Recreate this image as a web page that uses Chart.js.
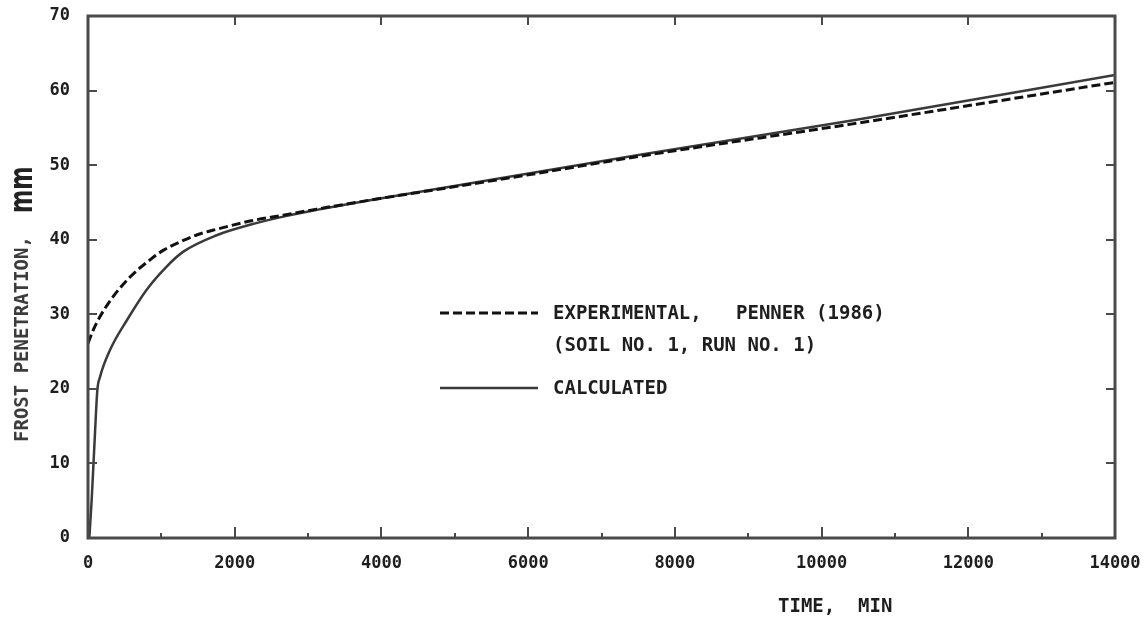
<!DOCTYPE html>
<html>
<head>
<meta charset="utf-8">
<script src="https://cdn.jsdelivr.net/npm/chart.js@4.4.0/dist/chart.umd.min.js"></script>
<style>
  html, body { margin: 0; padding: 0; background: #fff; }
  #wrap { width: 1144px; height: 622px; }
</style>
</head>
<body>
<div id="wrap"><canvas id="frost-chart" width="1144" height="622"></canvas></div>
<script>
// values (time in min, frost penetration in mm)
const calcTime = [18, 50, 95, 127, 164, 300, 530, 800, 1072, 1300, 1754, 2208, 2662, 3117, 4025, 4934, 7525, 10477, 14000];
const calcDepth = [0, 5.1, 14.0, 19.8, 21.6, 25.2, 29.2, 33.3, 36.4, 38.4, 40.6, 42.0, 43.1, 44.0, 45.6, 47.1, 51.4, 56.1, 62.1];

const expTime = [0, 72, 164, 345, 573, 845, 1030, 1300, 1500, 1754, 2208, 2662, 3117, 4025, 4800, 6000, 7525, 10400, 14000];
const expDepth = [26.1, 27.9, 29.7, 32.4, 35.0, 37.3, 38.6, 39.9, 40.7, 41.4, 42.5, 43.3, 44.1, 45.6, 46.8, 48.7, 51.2, 55.5, 61.1];

const xTicks = [0, 2000, 4000, 6000, 8000, 10000, 12000, 14000];
const yTicks = [0, 10, 20, 30, 40, 50, 60, 70];

const monoFont = "'DejaVu Sans Mono', 'Liberation Mono', monospace";

const toPoints = (xs, ys) => xs.map((x, i) => ({ x: x, y: ys[i] }));

// frame, inward ticks, legend and axis titles
const framePlugin = {
  id: "frame",
  afterDatasetsDraw(chart) {
    const ctx = chart.ctx;
    const a = chart.chartArea;
    const xs = chart.scales.x;
    const ys = chart.scales.y;

    ctx.save();
    ctx.strokeStyle = "#4a4a4a";
    ctx.lineWidth = 3;
    ctx.strokeRect(a.left, a.top, a.right - a.left, a.bottom - a.top);

    ctx.lineWidth = 2;
    ctx.beginPath();
    for (let t = 1000; t < 14000; t += 1000) {
      const px = Math.round(xs.getPixelForValue(t));
      const len = t % 2000 === 0 ? 11 : 5;
      ctx.moveTo(px, a.bottom);
      ctx.lineTo(px, a.bottom - len);
      if (t % 2000 === 0) {
        ctx.moveTo(px, a.top);
        ctx.lineTo(px, a.top + 9);
      }
    }
    for (let v = 10; v < 70; v += 10) {
      const py = Math.round(ys.getPixelForValue(v));
      ctx.moveTo(a.left, py);
      ctx.lineTo(a.left + 9, py);
      ctx.moveTo(a.right, py);
      ctx.lineTo(a.right - 9, py);
    }
    ctx.stroke();

    // legend
    const ds = chart.data.datasets;
    ctx.lineWidth = ds[0].borderWidth;
    ctx.strokeStyle = ds[0].borderColor;
    ctx.setLineDash(ds[0].borderDash);
    ctx.beginPath();
    ctx.moveTo(440, 313);
    ctx.lineTo(538, 313);
    ctx.stroke();
    ctx.setLineDash([]);
    ctx.lineWidth = ds[1].borderWidth;
    ctx.strokeStyle = ds[1].borderColor;
    ctx.beginPath();
    ctx.moveTo(440, 388);
    ctx.lineTo(538, 388);
    ctx.stroke();

    ctx.fillStyle = "#1e1e1e";
    ctx.font = "bold 19px " + monoFont;
    ctx.textAlign = "left";
    ctx.textBaseline = "middle";
    ctx.fillText("EXPERIMENTAL,   PENNER (1986)", 553, 314);
    ctx.fillText("(SOIL NO. 1, RUN NO. 1)", 553, 346);
    ctx.fillText("CALCULATED", 553, 389);

    // x title
    ctx.fillText("TIME,  MIN", 778, 607);

    // y title
    ctx.translate(28, 442);
    ctx.rotate(-Math.PI / 2);
    ctx.textBaseline = "alphabetic";
    ctx.fillStyle = "#3c3c3c";
    ctx.font = "bold 19px " + monoFont;
    ctx.fillText("FROST PENETRATION,", 0, 0);
    ctx.translate(229, 4);
    ctx.scale(0.7, 1);
    ctx.font = "bold 32px 'DejaVu Sans', sans-serif";
    ctx.fillStyle = "#222";
    ctx.fillText("mm", 0, 0);
    ctx.restore();
  },
};

new Chart("frost-chart", {
  type: "scatter",
  data: {
    datasets: [
      {
        label: "EXPERIMENTAL, PENNER (1986) (SOIL NO. 1, RUN NO. 1)",
        data: toPoints(expTime, expDepth),
        showLine: true,
        borderColor: "#111",
        borderWidth: 3,
        borderDash: [9, 4],
        pointRadius: 0,
        cubicInterpolationMode: "monotone",
      },
      {
        label: "CALCULATED",
        data: toPoints(calcTime, calcDepth),
        showLine: true,
        borderColor: "#3a3a3a",
        borderWidth: 2.5,
        pointRadius: 0,
        cubicInterpolationMode: "monotone",
      },
    ],
  },
  options: {
    responsive: false,
    animation: false,
    devicePixelRatio: 1,
    layout: { padding: { top: 16, right: 29, bottom: 0, left: 0 } },
    plugins: {
      legend: { display: false },
      tooltip: { enabled: false },
    },
    scales: {
      x: {
        type: "linear",
        min: 0,
        max: 14000,
        afterFit: (scale) => {
          scale.height = 84;
          scale.paddingLeft = 0;
          scale.paddingRight = 0;
        },
        afterBuildTicks: (scale) => { scale.ticks = xTicks.map((v) => ({ value: v })); },
        grid: { display: false, drawTicks: false },
        border: { display: false },
        ticks: {
          padding: 15,
          color: "#1e1e1e",
          font: { family: monoFont, size: 17, weight: "bold" },
          maxRotation: 0,
          callback: (v) => String(v),
        },
      },
      y: {
        type: "linear",
        min: 0,
        max: 70,
        afterFit: (scale) => {
          scale.width = 88;
          scale.paddingTop = 0;
          scale.paddingBottom = 0;
        },
        afterBuildTicks: (scale) => { scale.ticks = yTicks.map((v) => ({ value: v })); },
        grid: { display: false, drawTicks: false },
        border: { display: false },
        ticks: {
          padding: 18,
          color: "#1e1e1e",
          font: { family: monoFont, size: 17, weight: "bold" },
        },
      },
    },
  },
  plugins: [framePlugin],
});
</script>
</body>
</html>
